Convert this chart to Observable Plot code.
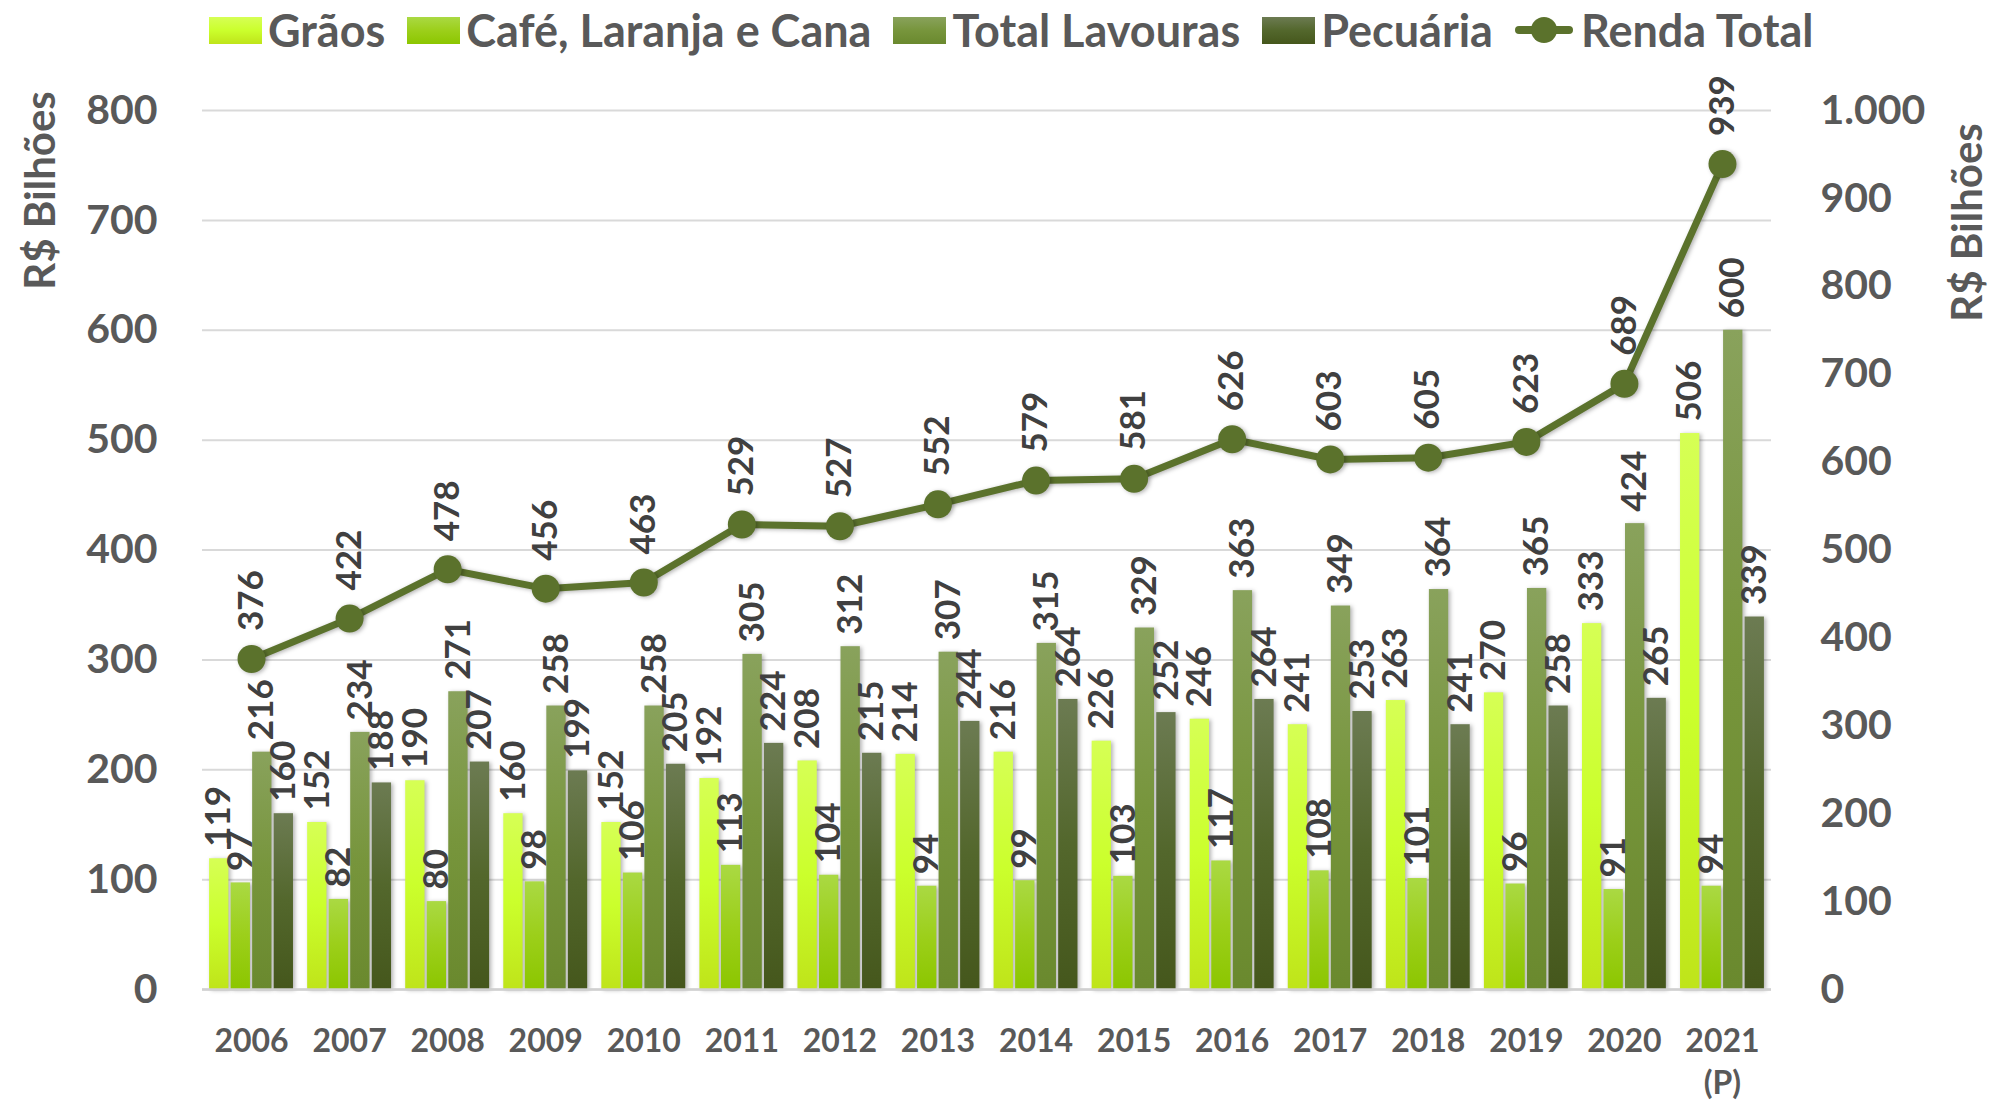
<!DOCTYPE html>
<html>
<head>
<meta charset="utf-8">
<script src="https://cdn.jsdelivr.net/npm/d3@7"></script>
<script src="https://cdn.jsdelivr.net/npm/@observablehq/plot@0.6"></script>
<style>
  html, body { margin: 0; padding: 0; background: #ffffff; }
  #wrap { position: relative; width: 1993px; height: 1103px; overflow: hidden; font-family: Lato, "Open Sans", sans-serif; font-weight: 700; }
  #legend { position: relative; height: 60px; display: flex; align-items: center; padding-left: 209px; color: #595959; font-size: 45px; white-space: nowrap; }
  .item { display: flex; align-items: center; margin-right: 22px; }
  .sw { width: 53px; height: 27px; margin-right: 6px; }
  #chart svg { display: block; overflow: visible; }
</style>
</head>
<body>
<div id="wrap">
  <div id="legend"></div>
  <div id="chart"></div>
</div>
<script>
// ---- Data ----
const years = [2006, 2007, 2008, 2009, 2010, 2011, 2012, 2013, 2014, 2015, 2016, 2017, 2018, 2019, 2020, 2021];
const graos = [119, 152, 190, 160, 152, 192, 208, 214, 216, 226, 246, 241, 263, 270, 333, 506];
const cafeLaranjaCana = [97, 82, 80, 98, 106, 113, 104, 94, 99, 103, 117, 108, 101, 96, 91, 94];
const totalLavouras = [216, 234, 271, 258, 258, 305, 312, 307, 315, 329, 363, 349, 364, 365, 424, 600];
const pecuaria = [160, 188, 207, 199, 205, 224, 215, 244, 264, 252, 264, 253, 241, 258, 265, 339];
const rendaTotal = [376, 422, 478, 456, 463, 529, 527, 552, 579, 581, 626, 603, 605, 623, 689, 939];
const seriesNames = ["Grãos", "Café, Laranja e Cana", "Total Lavouras", "Pecuária"];
const lineName = "Renda Total";
const leftTicks = [0, 100, 200, 300, 400, 500, 600, 700, 800];
const rightTicks = [0, 100, 200, 300, 400, 500, 600, 700, 800, 900, 1000];
const yearLabel = d => d === 2021 ? "2021\n(P)" : String(d);
const axisTitle = "R$ Bilhões";

// ---- Styles ----
const gradients = [
  ["#d6ff55", "#cbff2c", "#bfe41a"],
  ["#aad943", "#9ccf1a", "#8cc600"],
  ["#89a25c", "#77953c", "#6a892e"],
  ["#6c7b52", "#53672c", "#45571c"]
];
const lineColor = "#5b722c";
const labelColor = "#404040";
const tickColor = "#595959";
const shadow = "drop-shadow(2px 1px 2px rgba(0,0,0,0.3))";

// secondary axis mapping (right 0–1000 onto left 0–800)
const R = 800 / 1000;
const ptBR = d3.formatLocale({decimal: ",", thousands: ".", grouping: [3], currency: ["R$", ""]});
const fmtRight = ptBR.format(",d");

const seriesArrays = [graos, cafeLaranjaCana, totalLavouras, pecuaria];
const bars = [];
seriesArrays.forEach((arr, k) => arr.forEach((v, i) => bars.push({year: years[i], k, value: v})));
const lineData = years.map((year, i) => ({year, value: rendaTotal[i]}));

const step = 0.2195, half = 0.0985;
const off = d => d.year + (d.k - 1.5) * step;

// ---- Legend ----
const legend = document.getElementById("legend");
seriesNames.forEach((name, k) => {
  const it = document.createElement("div");
  it.className = "item";
  const sw = document.createElement("div");
  sw.className = "sw";
  sw.style.background = `linear-gradient(to bottom, ${gradients[k][0]}, ${gradients[k][1]} 50%, ${gradients[k][2]})`;
  it.appendChild(sw);
  const t = document.createElement("span");
  t.textContent = name;
  it.appendChild(t);
  legend.appendChild(it);
});
{
  const it = document.createElement("div");
  it.className = "item";
  it.innerHTML = `<svg width="58" height="30" style="margin-right:8px"><line x1="4" y1="15" x2="54" y2="15" stroke="${lineColor}" stroke-width="8" stroke-linecap="round"/><circle cx="29" cy="15" r="13" fill="${lineColor}"/></svg>`;
  const t = document.createElement("span");
  t.textContent = lineName;
  it.appendChild(t);
  legend.appendChild(it);
}

// ---- Defs (gradients) ----
function defs() {
  const d = d3.create("svg:defs");
  gradients.forEach((g, k) => {
    const lg = d.append("linearGradient").attr("id", "grad" + k).attr("x1", 0).attr("y1", 0).attr("x2", 0).attr("y2", 1);
    lg.append("stop").attr("offset", "0%").attr("stop-color", g[0]);
    lg.append("stop").attr("offset", "50%").attr("stop-color", g[1]);
    lg.append("stop").attr("offset", "100%").attr("stop-color", g[2]);
  });
  return d.node();
}

const chart = Plot.plot({
  width: 1993,
  height: 1043,
  marginTop: 50,
  marginBottom: 114,
  marginLeft: 202,
  marginRight: 222,
  style: {fontFamily: "Lato, 'Open Sans', sans-serif", fontWeight: 700, background: "transparent", overflow: "visible"},
  x: {type: "linear", domain: [2005.5, 2021.5]},
  y: {domain: [0, 800]},
  marks: [
    defs,
    Plot.gridY(leftTicks, {stroke: "#d9d9d9", strokeOpacity: 1, strokeWidth: 2}),
    ...seriesArrays.map((_, k) => Plot.rectY(bars.filter(d => d.k === k), {
      x1: d => off(d) - half,
      x2: d => off(d) + half,
      y1: 0,
      y2: "value",
      fill: `url(#grad${k})`,
      imageFilter: shadow
    })),
    Plot.ruleY([0], {stroke: "#d0d0d0", strokeWidth: 2.5}),
    Plot.text(bars, {
      x: off, y: "value", text: d => String(d.value),
      rotate: -90, textAnchor: "start", lineAnchor: "middle",
      dy: -12, fontSize: 35, fill: labelColor
    }),
    Plot.line(lineData, {x: "year", y: d => d.value * R, stroke: lineColor, strokeWidth: 7, imageFilter: shadow}),
    Plot.dot(lineData, {x: "year", y: d => d.value * R, r: 14, fill: lineColor, stroke: "none", imageFilter: shadow}),
    Plot.text(lineData, {
      x: "year", y: d => d.value * R, text: d => String(d.value),
      rotate: -90, textAnchor: "start", lineAnchor: "middle",
      dy: -28, fontSize: 35, fill: labelColor
    }),
    Plot.axisY(leftTicks, {anchor: "left", tickSize: 0, tickPadding: 45, fontSize: 41, color: tickColor, label: null}),
    Plot.axisY(rightTicks.map(v => v * R), {anchor: "right", tickSize: 0, tickPadding: 49, fontSize: 41, color: tickColor, label: null,
      tickFormat: d => fmtRight(Math.round(d / R))}),
    Plot.axisX(years, {tickSize: 0, tickPadding: 33, fontSize: 32, color: tickColor, label: null, tickFormat: yearLabel, lineHeight: 1.3}),
    Plot.text([axisTitle], {frameAnchor: "top-left", dx: -161, dy: 80, rotate: -90, textAnchor: "middle", lineAnchor: "middle", fontSize: 42, fill: tickColor}),
    Plot.text([axisTitle], {frameAnchor: "top-right", dx: 197, dy: 112, rotate: -90, textAnchor: "middle", lineAnchor: "middle", fontSize: 42, fill: tickColor})
  ]
});
document.getElementById("chart").appendChild(chart);
</script>
</body>
</html>
